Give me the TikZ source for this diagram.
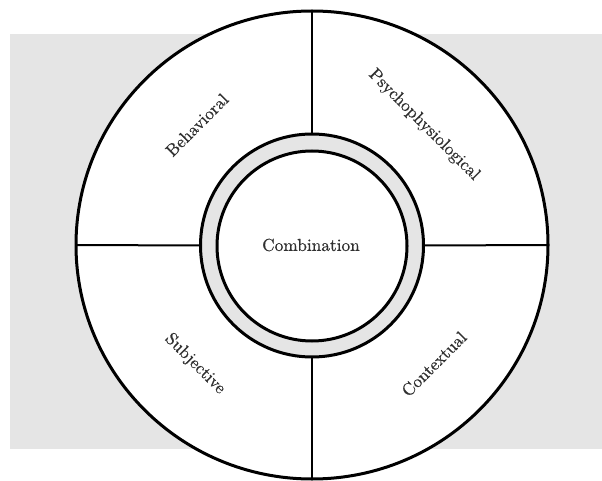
\documentclass[tikz,border=0pt]{standalone}
\usepackage{fontspec}
\newfontfamily\lblfont{lmroman10-regular.otf}[FakeBold=0.6]
\usetikzlibrary{shapes.geometric}
\definecolor{bggrey}{HTML}{E5E5E5}
\definecolor{txtgrey}{HTML}{303030}
\tikzset{
  ring/.style={draw=black, line width=3pt, circle, inner sep=0pt, outer sep=0pt},
  divider/.style={draw=black, line width=2pt},
  lbl/.style={text=txtgrey, font=\lblfont\fontsize{17.3}{21}\selectfont, inner sep=0pt}
}
\begin{document}
\begin{tikzpicture}[x=1pt,y=-1pt]
\useasboundingbox (0,0) rectangle (602,481);
\fill[bggrey] (10,34) rectangle (602,449);
\node[draw=black, line width=3pt, ellipse, fill=white, inner sep=0pt, outer sep=0pt,
      minimum width=472pt, minimum height=468pt] (outer) at (312,245) {};
\node[ring, fill=bggrey, minimum size=223pt] (ringo) at (312,245.5) {};
\node[ring, fill=white, minimum size=190pt] (ringi) at (312,246) {};
\draw[divider] (outer.north) -- (ringo.north);
\draw[divider] (ringo.south) -- (outer.south);
\draw[divider] (outer.west) -- (ringo.west);
\draw[divider] (ringo.east) -- (outer.east);
\node[lbl] (comb) at (311,245) {Combination};
\node[lbl, rotate=45] (beh) at (197,125) {Behavioral};
\node[lbl, rotate=-45] (psy) at (424,125) {Psychophysiological};
\node[lbl, rotate=-45] (subj) at (195,364) {Subjective};
\node[lbl, rotate=45] (ctx) at (434,364) {Contextual};
\end{tikzpicture}
\end{document}
